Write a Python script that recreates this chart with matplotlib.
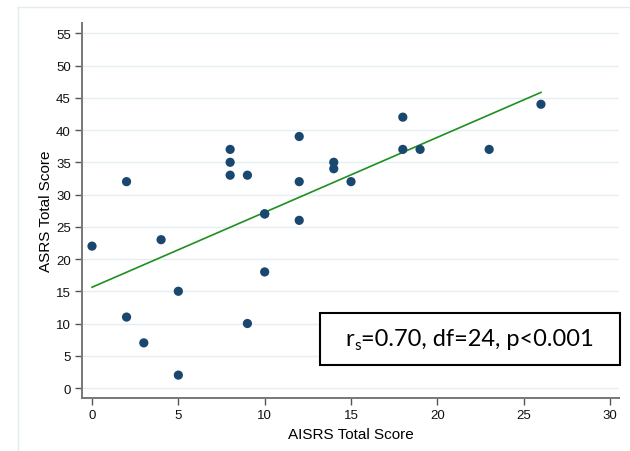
import numpy as np
import matplotlib
matplotlib.use("Agg")
import matplotlib.pyplot as plt
from matplotlib.patches import Rectangle
from matplotlib.lines import Line2D

aisrs = [0, 2, 2, 3, 4, 5, 5, 8, 8, 8, 9, 9, 10, 10, 10, 12, 12, 12, 14, 14, 15, 18, 18, 19, 23, 26]
asrs = [22, 32, 11, 7, 23, 15, 2, 37, 35, 33, 33, 10, 27, 27, 18, 39, 32, 26, 35, 34, 32, 42, 37, 37, 37, 44]
xticks = [0, 5, 10, 15, 20, 25, 30]
yticks = [0, 5, 10, 15, 20, 25, 30, 35, 40, 45, 50, 55]

W, H = 630, 452
fig = plt.figure(figsize=(W / 100, H / 100), dpi=100)
plt.rcParams['font.family'] = ['Liberation Sans', 'DejaVu Sans']

# faint outer graph-region frame
fig.add_artist(Line2D([18 / W, 18 / W], [0, 1 - 8 / H], color='#e3ecee', lw=1.0))
fig.add_artist(Line2D([18 / W, 1], [1 - 8 / H, 1 - 8 / H], color='#e3ecee', lw=1.0))

ax = fig.add_axes([82 / W, 1 - 399 / H, (619 - 82) / W, (399 - 24) / H])
ax.set_xlim(-0.58, 30.52)
ax.set_ylim(-1.55, 56.6)

ax.set_yticks(yticks)
ax.set_xticks(xticks)
ax.yaxis.grid(True, color='#e5eef0', lw=1.0)
ax.set_axisbelow(True)

for s in ['top', 'right']:
    ax.spines[s].set_visible(False)
for s in ['left', 'bottom']:
    ax.spines[s].set_color('#777777')
    ax.spines[s].set_linewidth(1.4)
ax.tick_params(axis='both', direction='out', length=5, width=1.0, color='#555555',
               labelsize=9.5, labelcolor='#111111', pad=3)

ax.scatter(aisrs, asrs, s=44, color='#1a476f', zorder=3, edgecolors='none')

slope, intercept = np.polyfit(aisrs, asrs, 1)
xf = np.array([min(aisrs), max(aisrs)])
ax.plot(xf, intercept + slope * xf, color='#1f8f1f', lw=1.2, zorder=2)

ax.set_xlabel('AISRS Total Score', fontsize=11, labelpad=4)
ax.set_ylabel('ASRS Total Score', fontsize=11, labelpad=2)

rect = Rectangle((13.2, 3.57), 30.57 - 13.2, 11.63 - 3.57, facecolor='white',
                 edgecolor='black', lw=1.5, zorder=4, clip_on=False)
ax.add_patch(rect)
fam = ['Lato', 'DejaVu Sans']
t1 = ax.text(14.7, 7.6, 'r', ha='left', va='center', fontsize=17, family=fam, zorder=5)
fig.canvas.draw()
bb = t1.get_window_extent()
t2 = ax.annotate('s', xy=(bb.x1, bb.y0), xycoords='figure pixels', xytext=(0, -3),
                 textcoords='offset pixels', fontsize=11, family=fam, ha='left', va='bottom', zorder=5)
fig.canvas.draw()
bb2 = t2.get_window_extent()
ax.annotate('=0.70, df=24, p<0.001', xy=(bb2.x1, (bb.y0 + bb.y1) / 2), xycoords='figure pixels',
            fontsize=17, family=fam, ha='left', va='center', zorder=5)

fig.savefig('out.png', dpi=100)
